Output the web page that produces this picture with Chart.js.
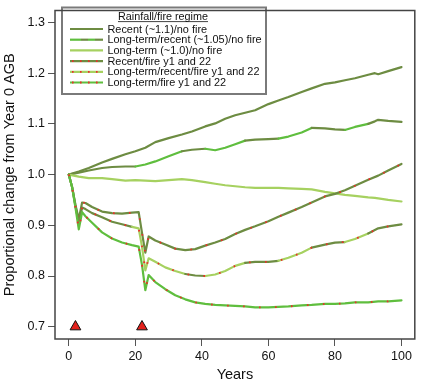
<!DOCTYPE html>
<html>
<head>
<meta charset="utf-8">
<script src="https://cdn.jsdelivr.net/npm/chart.js@4"></script>
<style>
  html, body { margin: 0; padding: 0; background: #fff; }
  canvas { display: block; }
</style>
</head>
<body>
<canvas id="c" width="422" height="385"></canvas>
<script>
// ---------------- DATA ----------------
const xTicks = [0, 20, 40, 60, 80, 100];
const yTicks = [0.7, 0.8, 0.9, 1.0, 1.1, 1.2, 1.3];

const legendTitle = "Rainfall/fire regime";
const seriesNames = [
  "Recent (~1.1)/no fire",
  "Long-term/recent (~1.05)/no fire",
  "Long-term (~1.0)/no fire",
  "Recent/fire y1 and 22",
  "Long-term/recent/fire y1 and 22",
  "Long-term/fire y1 and 22"
];

// years at which no-fire series were read
const yearsNoFire = [0,3,6,10,13,17,20,23,26,30,34,37,41,44,47,50,53,56,60,63,66,70,73,77,80,83,86,90,92,93,96,100];
const recentNoFire =   [1.000,1.006,1.013,1.024,1.031,1.040,1.046,1.053,1.064,1.072,1.079,1.085,1.095,1.101,1.110,1.117,1.122,1.127,1.139,1.146,1.153,1.163,1.170,1.179,1.182,1.186,1.190,1.197,1.200,1.198,1.204,1.212];
const mixedNoFire =    [1.000,1.004,1.008,1.013,1.015,1.016,1.016,1.020,1.026,1.036,1.046,1.049,1.051,1.048,1.053,1.060,1.067,1.069,1.070,1.071,1.075,1.083,1.092,1.091,1.089,1.088,1.094,1.100,1.105,1.108,1.106,1.104];
const longNoFire =     [1.000,0.996,0.993,0.993,0.991,0.988,0.989,0.988,0.987,0.989,0.991,0.989,0.985,0.982,0.979,0.977,0.975,0.974,0.974,0.974,0.973,0.972,0.971,0.966,0.963,0.960,0.958,0.955,0.954,0.953,0.950,0.947];

// years at which fire series were read
const yearsFire = [0,1,2,3,4,5,7,10,13,16,19,21,22,23,24,26,29,32,35,38,41,44,47,50,53,56,60,63,66,70,73,77,80,83,86,90,93,96,100];
const recentFire = [1.000,0.975,0.940,0.912,0.945,0.944,0.936,0.927,0.924,0.923,0.925,0.926,0.885,0.846,0.878,0.870,0.862,0.854,0.851,0.853,0.860,0.866,0.873,0.883,0.891,0.898,0.908,0.917,0.925,0.936,0.945,0.957,0.962,0.969,0.978,0.990,0.998,1.008,1.021];
const mixedFire =  [1.000,0.975,0.938,0.904,0.935,0.932,0.924,0.916,0.907,0.902,0.897,0.894,0.858,0.811,0.835,0.828,0.817,0.810,0.804,0.801,0.800,0.803,0.810,0.820,0.826,0.828,0.828,0.830,0.836,0.846,0.856,0.862,0.866,0.867,0.873,0.884,0.894,0.898,0.902];
const longFire =   [1.000,0.975,0.935,0.892,0.926,0.918,0.905,0.886,0.874,0.866,0.861,0.858,0.822,0.772,0.802,0.788,0.774,0.762,0.754,0.748,0.745,0.743,0.742,0.741,0.740,0.738,0.738,0.739,0.740,0.742,0.743,0.745,0.745,0.746,0.748,0.748,0.750,0.750,0.752];

// periods in which the mixed series use the recent rainfall record
const recentPeriods = [[0,20],[34,42],[53,62],[72,83],[91,100]];

// fire years (triangles)
const fireYears = [2, 22];
const fireMarkerLevel = [0.7, 0.7];

// ---------------- STYLE ----------------
const FONT = "'Liberation Sans', Arial, Helvetica, sans-serif";
const OLIVE = "#6d8c42";
const GREEN = "#5fbe3e";
const LIGHT = "#a6d160";
const DOT = "#ee2a2a";

function pts(xs, ys) { return xs.map((x, i) => ({ x: x, y: ys[i] })); }
function isRecent(year) { return recentPeriods.some(p => year >= p[0] && year < p[1]); }
function mixedColor(alt) {
  return ctx => isRecent((ctx.p0.parsed.x + ctx.p1.parsed.x) / 2) ? OLIVE : alt;
}

const lineBase = { pointRadius: 0, borderWidth: 2.2, tension: 0, fill: false, borderCapStyle: 'round', borderJoinStyle: 'round' };
const dotBase = { pointRadius: 0, borderWidth: 1.8, tension: 0, fill: false, borderColor: DOT, borderDash: [1.6, 14.4], borderCapStyle: 'butt' };

// later entries are drawn on top (lower order = drawn later)
const datasets = [
  Object.assign({ label: seriesNames[0], data: pts(yearsNoFire, recentNoFire), borderColor: OLIVE, order: 20 }, lineBase),
  Object.assign({ label: seriesNames[1], data: pts(yearsNoFire, mixedNoFire), borderColor: GREEN, segment: { borderColor: mixedColor(GREEN) }, order: 19 }, lineBase),
  Object.assign({ label: seriesNames[2], data: pts(yearsNoFire, longNoFire), borderColor: LIGHT, order: 18 }, lineBase),
  Object.assign({ label: seriesNames[3], data: pts(yearsFire, recentFire), borderColor: OLIVE, order: 17 }, lineBase),
  Object.assign({ label: seriesNames[3] + " dots", data: pts(yearsFire, recentFire), order: 16 }, dotBase),
  Object.assign({ label: seriesNames[4], data: pts(yearsFire, mixedFire), borderColor: LIGHT, segment: { borderColor: mixedColor(LIGHT) }, order: 15 }, lineBase),
  Object.assign({ label: seriesNames[4] + " dots", data: pts(yearsFire, mixedFire), order: 14 }, dotBase),
  Object.assign({ label: seriesNames[5], data: pts(yearsFire, longFire), borderColor: GREEN, order: 13 }, lineBase),
  Object.assign({ label: seriesNames[5] + " dots", data: pts(yearsFire, longFire), order: 12 }, dotBase),
  { label: "fire", data: pts(fireYears, fireMarkerLevel), showLine: false, pointStyle: 'triangle', order: 1,
    pointRadius: 6.2, backgroundColor: "#e3211c", borderColor: "#111", borderWidth: 1 }
];

// ---------------- PLUGINS ----------------
const framePlugin = {
  id: 'frame',
  afterDraw(chart) {
    const { ctx, chartArea: a } = chart;
    ctx.save();
    ctx.strokeStyle = "#444";
    ctx.lineWidth = 1.5;
    ctx.strokeRect(a.left, a.top, a.right - a.left, a.bottom - a.top);
    ctx.restore();
  }
};

const legendPlugin = {
  id: 'regimeLegend',
  afterDatasetsDraw(chart) {
    const ctx = chart.ctx;
    ctx.save();
    const bx = 62, by = 7.5, bw = 204, bh = 86.5;
    ctx.fillStyle = "#fff";
    ctx.fillRect(bx, by, bw, bh);
    ctx.strokeStyle = "#7a7a7a";
    ctx.lineWidth = 2;
    ctx.strokeRect(bx, by, bw, bh);

    ctx.font = "10.8px " + FONT;
    ctx.fillStyle = "#111";
    ctx.textBaseline = "alphabetic";
    ctx.textAlign = "center";
    const tx = 163, ty = 19.8;
    ctx.fillText(legendTitle, tx, ty);
    const tw = ctx.measureText(legendTitle).width;
    ctx.strokeStyle = "#111";
    ctx.lineWidth = 0.8;
    ctx.beginPath();
    ctx.moveTo(tx - tw / 2, ty + 1.8);
    ctx.lineTo(tx + tw / 2, ty + 1.8);
    ctx.stroke();

    const x0 = 70, x1 = 103;
    const rowY = i => 29 + i * 10.7;
    const seg = (y, a, b, col) => {
      ctx.strokeStyle = col; ctx.lineWidth = 2.2; ctx.setLineDash([]);
      ctx.beginPath(); ctx.moveTo(a, y); ctx.lineTo(b, y); ctx.stroke();
    };
    const dots = (y) => {
      ctx.strokeStyle = DOT; ctx.lineWidth = 1.8; ctx.setLineDash([1.6, 6.4]); ctx.lineDashOffset = -2;
      ctx.beginPath(); ctx.moveTo(x0, y); ctx.lineTo(x1, y); ctx.stroke();
      ctx.setLineDash([]);
    };
    ctx.lineCap = "butt";
    seg(rowY(0), x0, x1, OLIVE);
    seg(rowY(1), x0, x0 + 11, GREEN);
    seg(rowY(1), x0 + 11, x0 + 18, OLIVE);
    seg(rowY(1), x0 + 18, x0 + 25, GREEN);
    seg(rowY(1), x0 + 25, x1, OLIVE);
    seg(rowY(2), x0, x1, LIGHT);
    seg(rowY(3), x0, x1, OLIVE); dots(rowY(3));
    seg(rowY(4), x0, x1, LIGHT); dots(rowY(4));
    seg(rowY(5), x0, x1, GREEN); dots(rowY(5));

    ctx.font = "10.9px " + FONT;
    ctx.fillStyle = "#111";
    ctx.textAlign = "left";
    ctx.textBaseline = "middle";
    seriesNames.forEach((n, i) => ctx.fillText(n, 107.5, rowY(i) + 0.5));
    ctx.restore();
  }
};

// ---------------- CHART ----------------
new Chart(document.getElementById('c'), {
  type: 'line',
  data: { datasets: datasets },
  options: {
    responsive: false,
    devicePixelRatio: 1,
    animation: false,
    layout: { padding: { top: 1.5, right: 1, left: 0, bottom: 0 } },
    plugins: { legend: { display: false }, tooltip: { enabled: false } },
    scales: {
      x: {
        type: 'linear', min: -4.15, max: 104,
        afterBuildTicks: s => { s.ticks = xTicks.map(v => ({ value: v })); },
        afterFit: s => { s.height = 46; },
        grid: { display: true, drawOnChartArea: false, drawTicks: true, tickLength: 7, color: "#555", lineWidth: 1 },
        border: { display: false },
        ticks: { font: { size: 12.5, family: FONT }, color: "#111", padding: 3, maxRotation: 0, autoSkip: false, callback: v => String(v) },
        title: { display: true, text: "Years", font: { size: 14.5, family: FONT }, color: "#111", padding: { top: 2, bottom: 1 } }
      },
      y: {
        type: 'linear', min: 0.6758, max: 1.3236,
        afterBuildTicks: s => { s.ticks = yTicks.map(v => ({ value: v })); },
        afterFit: s => { s.width = 55; },
        grid: { display: true, drawOnChartArea: false, drawTicks: true, tickLength: 7, color: "#555", lineWidth: 1 },
        border: { display: false },
        ticks: { font: { size: 12.5, family: FONT }, color: "#111", padding: 3, autoSkip: false, callback: v => Number(v).toFixed(1) },
        title: { display: true, text: "Proportional change from Year 0 AGB", font: { size: 14.5, family: FONT }, color: "#111", padding: { top: 1, bottom: 1 } }
      }
    }
  },
  plugins: [legendPlugin, framePlugin]
});
</script>
</body>
</html>
